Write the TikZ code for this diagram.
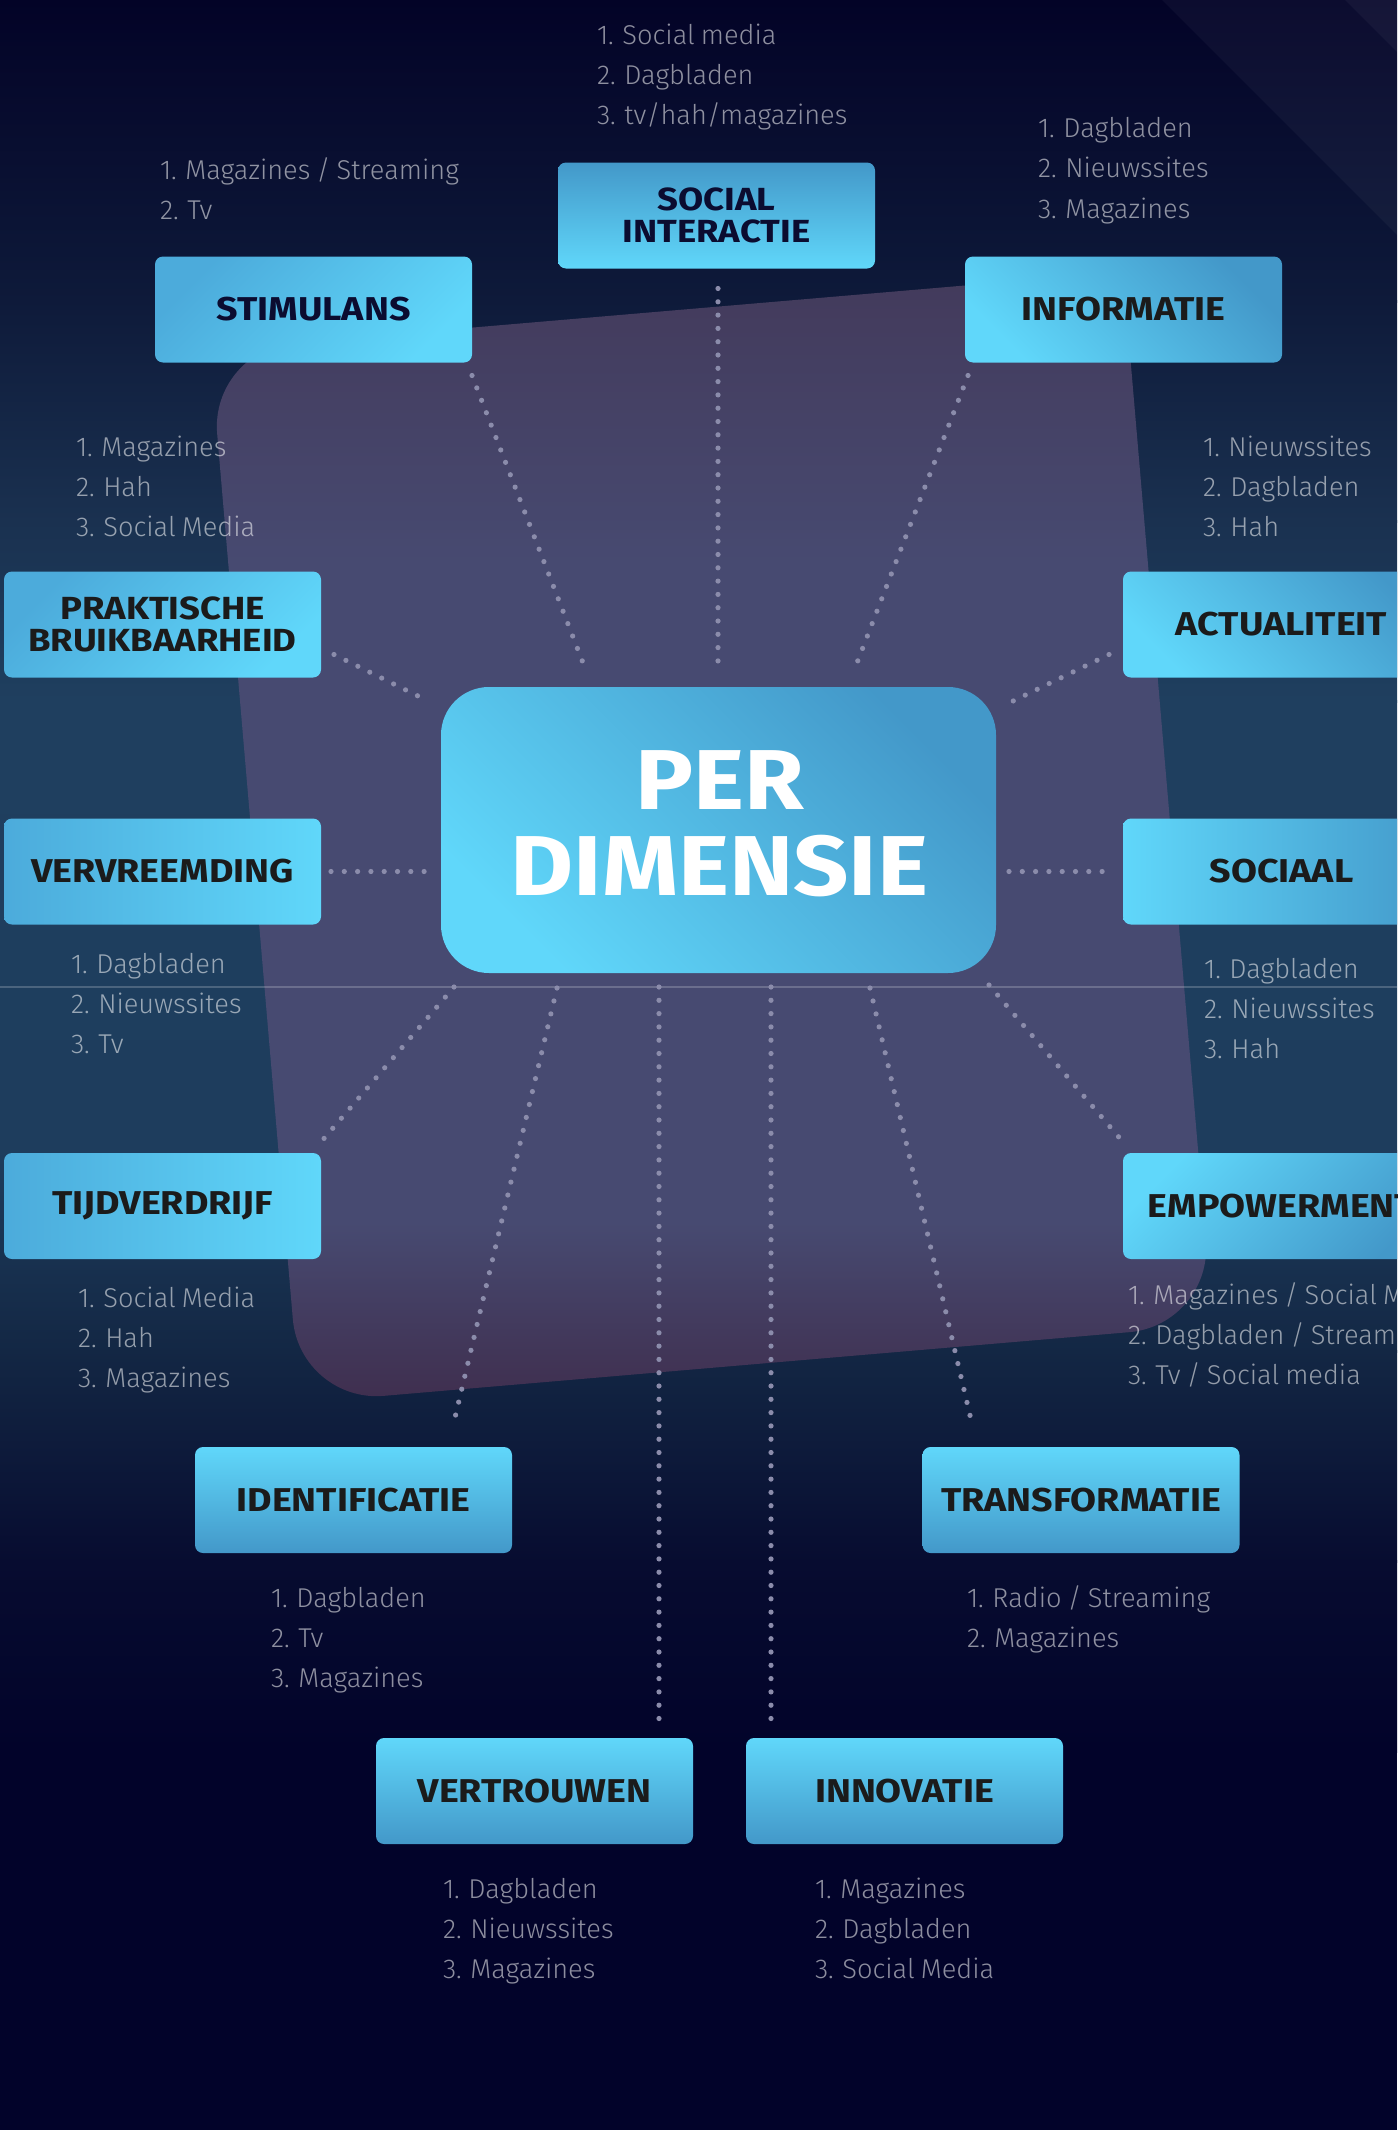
\documentclass[tikz,border=0pt]{standalone}
\usepackage{fontspec}
\setmainfont{Fira Sans}
\newfontfamily\lightfont{Fira Sans Light}[WordSpace=0.8]
\newfontfamily\labelfont{Fira Sans}[FakeStretch=1.14]
\usetikzlibrary{calc}
\definecolor{bg0}{HTML}{030327}
\definecolor{bg1}{HTML}{0E1A3A}
\definecolor{bg2}{HTML}{1A3150}
\definecolor{bg3}{HTML}{1F3F5F}
\definecolor{bg4}{HTML}{1E3D5D}
\definecolor{bg5}{HTML}{132744}
\definecolor{bg6}{HTML}{070C30}
\definecolor{bg7}{HTML}{02032A}
\definecolor{pu1}{HTML}{433A5B}
\definecolor{pu2}{HTML}{474A71}
\definecolor{pu3}{HTML}{3F2E4E}
\definecolor{cyanL}{HTML}{60D7FA}
\definecolor{cyanM}{HTML}{4AA8D6}
\definecolor{cyanD}{HTML}{4398C9}
\definecolor{cyanT}{HTML}{4CABDB}
\definecolor{labeltext}{HTML}{1B1B1B}
\definecolor{navytext}{HTML}{0B0C30}
\definecolor{dotc}{HTML}{8B8CAB}
\pgfdeclareverticalshading{panelshade}{100bp}{color(0bp)=(pu3); color(25bp)=(pu3); color(33bp)=(pu2); color(62bp)=(pu2); color(75bp)=(pu1); color(100bp)=(pu1)}
\newcommand{\ls}[1]{\vtop{\baselineskip=20pt\lineskiplimit=-30pt #1}}
\tikzset{
  box/.style={rounded corners=4pt, minimum width=158.5pt, minimum height=53pt,
    inner sep=0pt, outer sep=0pt, align=center, text=labeltext,
    font=\labelfont\bfseries\fontsize{16.5}{16.5}\selectfont},
  twoline/.style={font=\labelfont\bfseries\fontsize{16}{16}\selectfont},
  gdiagBR/.style={top color=cyanT, middle color=cyanD, bottom color=cyanL, shading angle=45},
  gdiagBL/.style={top color=cyanD, middle color=cyanM, bottom color=cyanL, shading angle=-45},
  gdiagTL/.style={top color=cyanL, middle color=cyanM, bottom color=cyanD, shading angle=45},
  gright/.style={left color=cyanT, middle color=cyanD, right color=cyanL},
  gleft/.style={left color=cyanL, middle color=cyanM, right color=cyanD},
  gdown/.style={top color=cyanL, middle color=cyanM, bottom color=cyanD},
  gup/.style={top color=cyanD, middle color=cyanD!85!cyanL, bottom color=cyanL},
  lst/.style={font=\lightfont\fontsize{13.6}{20}\selectfont, text=white, text opacity=0.55,
    inner sep=0pt, outer sep=0pt, anchor=base west},
  dotline/.style={draw=dotc, line width=2.6pt, line cap=round, dash pattern=on 0pt off 6.65pt}
}
\begin{document}
\begin{tikzpicture}[x=0.5pt,y=-0.5pt]
\useasboundingbox (0,0) rectangle (1397,2130);
\clip (0,0) rectangle (1397,2130);
% background bands
\shade[top color=bg0, bottom color=bg1] (0,0) rectangle (1397,302);
\shade[top color=bg1, bottom color=bg2] (0,300) rectangle (1397,522);
\shade[top color=bg2, bottom color=bg3] (0,520) rectangle (1397,702);
\shade[top color=bg3, bottom color=bg4] (0,700) rectangle (1397,1152);
\shade[top color=bg4, bottom color=bg5] (0,1150) rectangle (1397,1352);
\shade[top color=bg5, bottom color=bg6] (0,1350) rectangle (1397,1562);
\shade[top color=bg6, bottom color=bg7] (0,1560) rectangle (1397,1752);
\fill[bg7] (0,1750) rectangle (1397,2130);
% top-right stripes
\fill[white, opacity=0.04] (1162,0) -- (1397,235) -- (1397,0) -- cycle;
\fill[white, opacity=0.04] (1345,0) -- (1397,52) -- (1397,0) -- cycle;
% tilted panel
\shade[shading=panelshade, rounded corners=42pt]
  (255,876) -- (210,350) -- (1123,272) -- (1213,1325) -- (300,1403) -- cycle;
% faint horizontal rule
\draw[white, opacity=0.2, line width=0.6pt] (0,987) -- (1397,987);

% centre
\node[rounded corners=24pt, minimum width=277.5pt, minimum height=143pt, inner sep=0pt, outer sep=0pt,
  gdiagBL] (cen) at (718.5,830) {};
\node[text=white, font=\labelfont\bfseries\fontsize{42.5}{43}\selectfont, align=center, inner sep=0pt]
  (centxt) at ($(cen.center)+(1,-6)$) {PER\\DIMENSIE};

% boxes
\node[box, twoline, gup, text=navytext] (soc) at (716.5,215.5) {SOCIAL\\INTERACTIE};
\node[box, gdiagBR, text=navytext] (stim) at (313.5,309.5) {STIMULANS};
\node[box, gdiagBL] (info) at (1123.5,309.5) {INFORMATIE};
\node[box, twoline, gdiagBR] (prak) at (162.5,624.5) {PRAKTISCHE\\BRUIKBAARHEID};
\node[box, gdiagBL] (actu) at (1281.5,624.5) {ACTUALITEIT};
\node[box, gright] (verv) at (162.5,871.5) {VERVREEMDING};
\node[box, gleft] (socl) at (1281.5,871.5) {SOCIAAL};
\node[box, gright] (tijd) at (162.5,1206) {TIJDVERDRIJF};
\node[box, gdiagTL] (empo) at (1281.5,1206) {EMPOWERMENT};
\node[box, gdown] (iden) at (353.5,1500) {IDENTIFICATIE};
\node[box, gdown] (tran) at (1081,1500) {TRANSFORMATIE};
\node[box, gdown] (vert) at (534.5,1791) {VERTROUWEN};
\node[box, gdown] (inno) at (904.5,1791) {INNOVATIE};

% connectors
\draw[dotline] ($(soc.south)+(1.5,20)$) -- ($(soc.south |- cen.north)+(1.5,-17)$);
\draw[dotline] ($(stim.south east)+(0,13)$) -- ($(cen.north west)+(144,-19)$);
\draw[dotline] ($(info.south west)+(3,13)$) -- ($(cen.north east)+(-141,-19)$);
\draw[dotline] ($(prak.east)+(13,30)$) -- ($(cen.north west)+(-21,10)$);
\draw[dotline] ($(actu.west)+(-14,30)$) -- ($(cen.north east)+(13,16)$);
\draw[dotline] ($(verv.east)+(10,0)$) -- ($(verv.east -| cen.west)+(-13,0)$);
\draw[dotline] ($(socl.west -| cen.east)+(13,0)$) -- ($(socl.west)+(-18,0)$);
\draw[dotline] ($(cen.south west)+(13,14)$) -- ($(tijd.north east)+(0,-11)$);
\draw[dotline] ($(cen.south west)+(116,15)$) -- ($(iden.north east)+(-59,-21)$);
\draw[dotline] ($(vert.north east |- cen.south)+(-34,14)$) -- ($(vert.north east)+(-34,-19)$);
\draw[dotline] ($(inno.north west |- cen.south)+(25,14)$) -- ($(inno.north west)+(25,-19)$);
\draw[dotline] ($(cen.south east)+(-126,15)$) -- ($(tran.north west)+(50,-21)$);
\draw[dotline] ($(cen.south east)+(-7,12)$) -- ($(empo.north west)+(0,-11)$);

% lists
\node[lst] (lsoc) at (597,45) {\ls{\hbox{1. Social media}\hbox{2. Dagbladen}\hbox{3. tv/hah/magazines}}};
\node[lst] (lstim) at (160,179) {\ls{\hbox{1. Magazines / Streaming}\hbox{2. Tv}}};
\node[lst] (linfo) at (1038,138) {\ls{\hbox{1. Dagbladen}\hbox{2. Nieuwssites}\hbox{3. Magazines}}};
\node[lst] (lprak) at (76,456) {\ls{\hbox{1. Magazines}\hbox{2. Hah}\hbox{3. Social Media}}};
\node[lst] (lactu) at (1203,456) {\ls{\hbox{1. Nieuwssites}\hbox{2. Dagbladen}\hbox{3. Hah}}};
\node[lst] (lverv) at (71,973) {\ls{\hbox{1. Dagbladen}\hbox{2. Nieuwssites}\hbox{3. Tv}}};
\node[lst] (lsocl) at (1204,978) {\ls{\hbox{1. Dagbladen}\hbox{2. Nieuwssites}\hbox{3. Hah}}};
\node[lst] (ltijd) at (78,1307) {\ls{\hbox{1. Social Media}\hbox{2. Hah}\hbox{3. Magazines}}};
\node[lst] (lempo) at (1128,1304) {\ls{\hbox{1. Magazines / Social Media}\hbox{2. Dagbladen / Streaming}\hbox{3. Tv / Social media}}};
\node[lst] (liden) at (271,1607) {\ls{\hbox{1. Dagbladen}\hbox{2. Tv}\hbox{3. Magazines}}};
\node[lst] (ltran) at (967,1607) {\ls{\hbox{1. Radio / Streaming}\hbox{2. Magazines}}};
\node[lst] (lvert) at (443,1898) {\ls{\hbox{1. Dagbladen}\hbox{2. Nieuwssites}\hbox{3. Magazines}}};
\node[lst] (linno) at (815,1898) {\ls{\hbox{1. Magazines}\hbox{2. Dagbladen}\hbox{3. Social Media}}};
\end{tikzpicture}
\end{document}
